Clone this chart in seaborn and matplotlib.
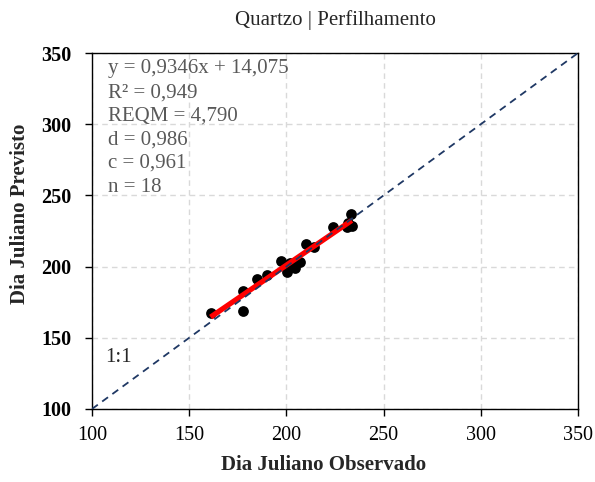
import numpy as np
import pandas as pd
import matplotlib
matplotlib.use("Agg")
import matplotlib.pyplot as plt
import seaborn as sns

# Observed vs. predicted Julian day
observado = [161.0, 177.8, 177.8, 185.0, 189.9, 197.1, 200.1, 201.9, 203.0, 204.4,
             207.0, 210.1, 214.2, 223.8, 231.0, 233.1, 233.6, 231.5]
previsto = [167.6, 169.0, 183.1, 191.1, 194.1, 203.9, 196.4, 202.3, 200.5, 198.8,
            203.5, 215.9, 213.6, 228.0, 228.0, 236.9, 228.5, 230.5]

# Fitted regression and statistics
coef_a = 0.9346
coef_b = 14.075
estatisticas = ["y = 0,9346x + 14,075", "R² = 0,949", "REQM = 4,790",
                "d = 0,986", "c = 0,961", "n = 18"]

ticks = [100, 150, 200, 250, 300, 350]
titulo = "Quartzo | Perfilhamento"
rotulo_x = "Dia Juliano Observado"
rotulo_y = "Dia Juliano Previsto"

sns.set_style("white")
plt.rcParams["font.family"] = ["Liberation Serif", "DejaVu Serif"]

df = pd.DataFrame({"obs": observado, "prev": previsto})
x_fit = np.array([min(observado), max(observado)])
fit = pd.DataFrame({"x": x_fit, "y": coef_a * x_fit + coef_b})
ref = pd.DataFrame({"x": [ticks[0], ticks[-1]], "y": [ticks[0], ticks[-1]]})

fig = plt.figure(figsize=(5.95, 4.82), dpi=100)
ax = fig.add_axes([0.1546, 0.1515, 0.8168, 0.7385])

ax.grid(True, color="#d9d9d9", linestyle=(0, (4, 3)), linewidth=1.0, zorder=0)
ax.set_axisbelow(True)

sns.scatterplot(data=df, x="obs", y="prev", ax=ax, color="black", s=60,
                edgecolor="black", linewidth=0, zorder=3)
sns.lineplot(data=fit, x="x", y="y", ax=ax, color="#ff0000", linewidth=3.8,
             zorder=4, solid_capstyle="butt")
sns.lineplot(data=ref, x="x", y="y", ax=ax, color="#1f3864", linewidth=1.3,
             linestyle=(0, (4, 3)), zorder=5)

ax.set_xlim(ticks[0], ticks[-1])
ax.set_ylim(ticks[0], ticks[-1])
ax.set_xticks(ticks)
ax.set_yticks(ticks)
ax.tick_params(axis="both", direction="out", length=5, width=1.0, colors="black",
               labelsize=14.5, bottom=True, left=True)
ax.tick_params(axis="y", pad=10)
ax.tick_params(axis="x", pad=7)
for lab in ax.get_yticklabels():
    lab.set_fontweight("bold")

for sp in ax.spines.values():
    sp.set_visible(True)
    sp.set_color("black")
    sp.set_linewidth(1.0)

ax.set_xlabel(rotulo_x, fontsize=15, fontweight="bold")
ax.set_ylabel(rotulo_y, fontsize=15, fontweight="bold")
ax.xaxis.set_label_coords(0.477, -0.13)
ax.yaxis.set_label_coords(-0.128, 0.548)
ax.set_title(titulo, fontsize=15, pad=20)

ax.text(0.033, 0.982, "\n".join(estatisticas), transform=ax.transAxes,
        ha="left", va="top", fontsize=15, color="#595959", linespacing=1.33)
ax.text(107, 136, "1:1", fontsize=15, color="#262626", ha="left", va="center")

fig.savefig("out.png", dpi=100)
